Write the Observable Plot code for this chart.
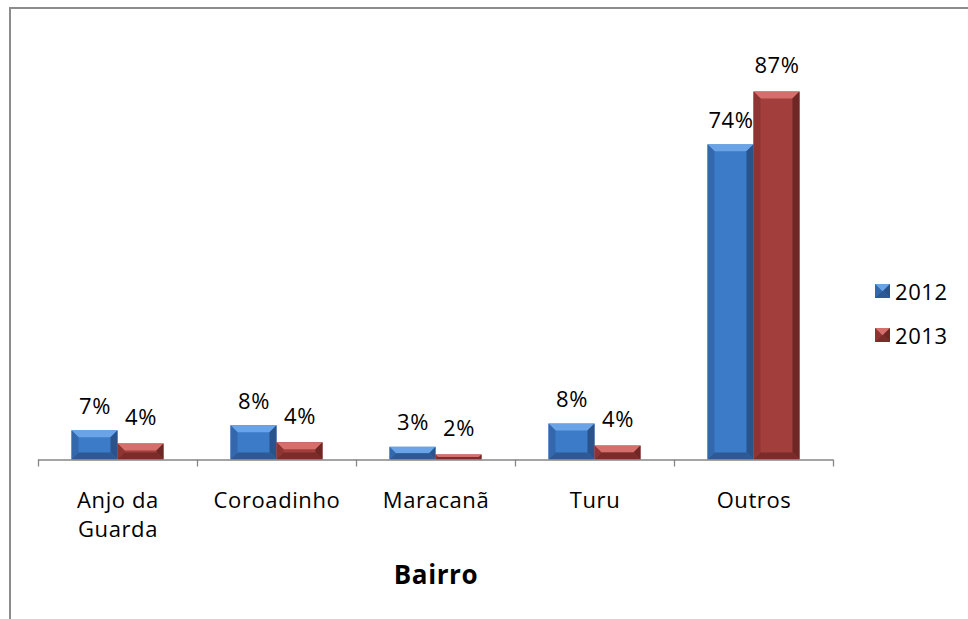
<!DOCTYPE html>
<html>
<head>
<meta charset="utf-8">
<script src="https://cdn.jsdelivr.net/npm/d3@7"></script>
<script src="https://cdn.jsdelivr.net/npm/@observablehq/plot@0.6"></script>
<style>
  html, body { margin: 0; padding: 0; background: #fff; overflow: hidden; width: 968px; height: 619px; }
  #wrap { position: relative; width: 968px; height: 619px; }
  #frame { position: absolute; left: 9px; top: 7px; width: 1000px; height: 700px; border: 2px solid #8c8c8c; box-sizing: border-box; }
  #chart { position: absolute; left: 0; top: 0; }
  #chart svg text { letter-spacing: 0.6px; }
  #legend { position: absolute; left: 875px; top: 278px; font-family: "Open Sans", sans-serif; font-size: 22px; letter-spacing: 0.6px; color: #000; }
  .lrow { display: flex; align-items: center; height: 26px; margin-bottom: 18px; }
  .lrow svg { margin-right: 5px; }
</style>
</head>
<body>
<div id="wrap">
  <div id="frame"></div>
  <div id="chart"></div>
  <div id="legend"></div>
</div>
<script>
// ---- data ----
const categories = ["Anjo da\nGuarda", "Coroadinho", "Maracanã", "Turu", "Outros"];
const series = ["2012", "2013"];
const values2012 = [6.9, 8.1, 3.0, 8.5, 74.5];
const values2013 = [3.8, 4.1, 1.2, 3.3, 87];
const labels2012 = ["7%", "8%", "3%", "8%", "74%"];
const labels2013 = ["4%", "4%", "2%", "4%", "87%"];
const axisTitle = "Bairro";

const colors = {
  "2012": {face: "#3b7bc8", top: "#6aa4e6", left: "#3468ad", right: "#2a538c", bottom: "#2d5a95"},
  "2013": {face: "#a23e3c", top: "#d46f6b", left: "#8e3533", right: "#6e2725", bottom: "#7a2c2a"}
};

const d2012 = categories.map((c, i) => ({cat: c, v: values2012[i], label: labels2012[i]}));
const d2013 = categories.map((c, i) => ({cat: c, v: values2013[i], label: labels2013[i]}));

const font = "'Open Sans', sans-serif";

const svg = Plot.plot({
  width: 968,
  height: 619,
  marginLeft: 38,
  marginRight: 135,
  marginTop: 36.5,
  marginBottom: 159.5,
  style: {fontFamily: font, fontSize: "22px", color: "#000", background: "transparent"},
  x: {type: "band", domain: categories, padding: 0, axis: null},
  y: {domain: [0, 100], axis: null},
  marks: [
    Plot.barY(d2012, {x: "cat", y: "v", fill: colors["2012"].face, insetLeft: 33.5, insetRight: 79.5}),
    Plot.barY(d2013, {x: "cat", y: "v", fill: colors["2013"].face, insetLeft: 79.5, insetRight: 33.5}),
    Plot.ruleY([0], {stroke: "#868686", strokeWidth: 1.3}),
    Plot.ruleX(categories, {x: d => d, dx: -79.5, y1: 0, y2: 0, stroke: "#868686", strokeWidth: 1.3, insetBottom: -7}),
    Plot.ruleX([categories[categories.length - 1]], {x: d => d, dx: 79.5, y1: 0, y2: 0, stroke: "#868686", strokeWidth: 1.3, insetBottom: -7}),
    Plot.text(d2012, {x: "cat", y: "v", text: "label", dx: -23, dy: -24, fontSize: 22, fill: "#000"}),
    Plot.text(d2013, {x: "cat", y: "v", text: "label", dx: 23, dy: -26, fontSize: 22, fill: "#000"}),
    Plot.text(categories, {x: d => d, frameAnchor: "bottom", lineAnchor: "top", dy: 26.5, lineHeight: 1.35, fontSize: 22, fill: "#000"}),
    Plot.text([axisTitle], {frameAnchor: "bottom", lineAnchor: "bottom", dy: 123.5, fontSize: 26, fontWeight: "bold", fill: "#000"})
  ]
});

// bevel decoration for bars (derived from the rendered rects)
function bevel(parent, x, y, w, h, pal) {
  const b = Math.min(7, h / 2, w / 2);
  const poly = (pts, fill) => parent.append("polygon").attr("points", pts.map(p => p.join(",")).join(" ")).attr("fill", fill);
  poly([[x, y], [x + w, y], [x + w - b, y + b], [x + b, y + b]], pal.top);
  poly([[x, y], [x + b, y + b], [x + b, y + h - b], [x, y + h]], pal.left);
  poly([[x + w, y], [x + w, y + h], [x + w - b, y + h - b], [x + w - b, y + b]], pal.right);
  poly([[x, y + h], [x + b, y + h - b], [x + w - b, y + h - b], [x + w, y + h]], pal.bottom);
}
d3.select(svg).selectAll("g[aria-label='bar'] rect").each(function () {
  const r = d3.select(this);
  const fill = r.attr("fill") || d3.select(this.parentNode).attr("fill");
  const pal = fill === colors["2012"].face ? colors["2012"] : colors["2013"];
  r.attr("fill", pal.face);
  const x = +r.attr("x"), y = +r.attr("y"), w = +r.attr("width"), h = +r.attr("height");
  bevel(d3.select(this.parentNode), x, y, w, h, pal);
});
document.getElementById("chart").appendChild(svg);

// legend
const leg = d3.select("#legend");
series.forEach(s => {
  const row = leg.append("div").attr("class", "lrow");
  const sv = row.append("svg").attr("width", 15).attr("height", 14);
  sv.append("rect").attr("width", 15).attr("height", 14).attr("fill", colors[s].face);
  bevel(sv, 0, 0, 15, 14, colors[s]);
  row.append("span").text(s);
});
</script>
</body>
</html>
